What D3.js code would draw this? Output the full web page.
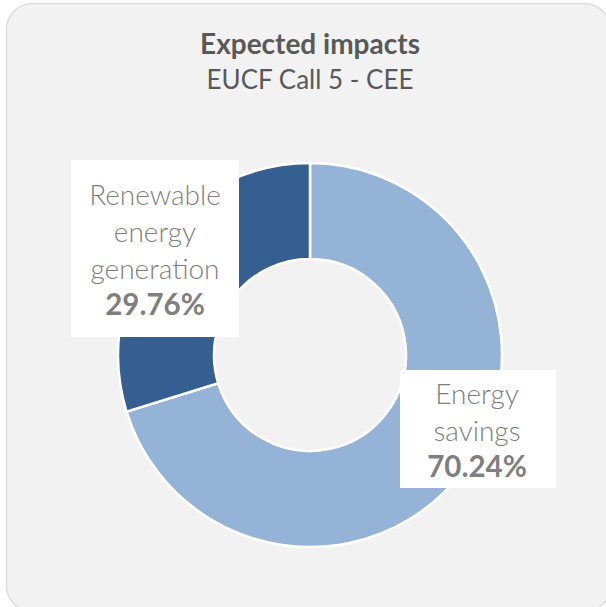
<!DOCTYPE html>
<html>
<head>
<title>Expected impacts | D3</title>
<style>
  body { margin: 0; background: #fff; font-family: "Lato", "Open Sans", sans-serif; }
</style>
<script src="https://d3js.org/d3.v7.min.js"></script>
</head>
<body>
<script>
// data
var categories = ["Energy savings", "Renewable energy generation"];
var values = [70.24, 29.76];
var labelLines = [["Energy", "savings"], ["Renewable", "energy", "generation"]];
var colors = ["#95b3d7", "#365f91"];

var width = 606, height = 607;
var svg = d3.select("body").append("svg")
    .attr("width", width)
    .attr("height", height);

// card background
svg.append("rect")
    .attr("x", 6.5).attr("y", 3.5)
    .attr("width", 604).attr("height", 608)
    .attr("rx", 26)
    .attr("fill", "#f2f2f2")
    .attr("stroke", "#dedede")
    .attr("stroke-width", 1.5);

svg.append("text")
    .attr("x", 310).attr("y", 54)
    .attr("text-anchor", "middle")
    .attr("fill", "#595959")
    .attr("font-size", 28).attr("font-weight", 700)
    .text("Expected impacts");
svg.append("text")
    .attr("x", 310).attr("y", 89)
    .attr("text-anchor", "middle")
    .attr("fill", "#595959")
    .attr("font-size", 26)
    .text("EUCF Call 5 - CEE");

var cx = 310, cy = 355, rOut = 192, rIn = 96;
var pie = d3.pie().sort(null).value(function(d){ return d; });
var arc = d3.arc().innerRadius(rIn).outerRadius(rOut);
var arcs = pie(values);

var g = svg.append("g").attr("transform", "translate(" + cx + "," + cy + ")");
g.selectAll("path")
    .data(arcs)
    .enter()
    .append("path")
    .attr("d", arc)
    .attr("fill", function(d, i){ return colors[i]; })
    .attr("stroke", "#fff")
    .attr("stroke-width", 2.5);

// label boxes (position per slice)
var boxes = [
  { x: 400, y: 370, w: 156, h: 118, cx: 477, y0: 404 },
  { x: 71, y: 160, w: 168, h: 177, cx: 155, y0: 205 }
];
var lineH = 37;

boxes.forEach(function(b, i){
  svg.append("rect")
      .attr("x", b.x).attr("y", b.y)
      .attr("width", b.w).attr("height", b.h)
      .attr("fill", "#fff");
  var t = svg.append("text")
      .attr("text-anchor", "middle")
      .attr("fill", "#7f7f7f")
      .attr("font-size", 28);
  labelLines[i].forEach(function(s, j){
    t.append("tspan")
        .attr("x", b.cx).attr("y", b.y0 + j * lineH)
        .attr("font-weight", 300)
        .text(s);
  });
  t.append("tspan")
      .attr("x", b.cx).attr("y", b.y0 + labelLines[i].length * lineH - 1)
      .attr("font-weight", 700)
      .attr("font-size", 29.5)
      .text(values[i].toFixed(2) + "%");
});
</script>
</body>
</html>
